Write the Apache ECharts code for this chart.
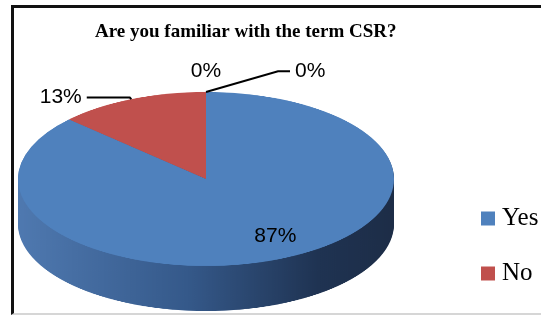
<!DOCTYPE html>
<html>
<head>
<meta charset="utf-8" />
<title>CSR</title>
<script src="https://cdn.jsdelivr.net/npm/echarts@6/dist/echarts.min.js"></script>
<style>
  body { margin: 0; width: 541px; height: 315px; overflow: hidden; background: #fff; position: relative; }
  #frame { position: absolute; left: 11px; top: 5px; width: 600px; height: 305px;
           border-left: 3px solid #111; border-top: 3px solid #111; border-bottom: 2px solid #d6d6d6; }
  #pie { position: absolute; left: 0; top: 0; width: 541px; transform-origin: 0 0; }
  #main { position: absolute; left: 0; top: 0; width: 541px; height: 315px; }
</style>
</head>
<body>
<div id="frame"></div>
<div id="pie"></div>
<div id="main"></div>
<script type="text/javascript">
// data (zero answers come first so they sit at 12 o'clock like the original)
var categories = ['Not sure', 'No answer', 'Yes', 'No'];
var values = [0, 0, 87, 13];
var legendNames = ['Yes', 'No'];
var colors = ['#9bbb59', '#8064a2', '#4f81bd', '#c0504d'];

// ellipse of the "3d" pie
var CX = 206, CY = 179, RX = 188, RY = 87, DEPTH = 45;
var k = RY / RX;
var cyU = CY / k, depthU = DEPTH / k;

var pieDiv = document.getElementById('pie');
pieDiv.style.height = Math.ceil((CY + RY + DEPTH + 6) / k) + 'px';
pieDiv.style.transform = 'scaleY(' + k + ')';

var sideColor = new echarts.graphic.LinearGradient(CX - RX, 0, CX + RX, 0, [
  { offset: 0, color: '#4f79b0' },
  { offset: 0.45, color: '#35598a' },
  { offset: 0.8, color: '#1f3352' },
  { offset: 1, color: '#1d2d47' }
], true);

var pieSeries = [];
for (var off = depthU; off > 0; off -= 3) {
  pieSeries.push({
    type: 'pie', silent: true, animation: false,
    center: [CX, cyU + off], radius: RX,
    startAngle: 90, clockwise: true,
    label: { show: false }, labelLine: { show: false },
    itemStyle: { color: sideColor },
    data: categories.map(function (c, i) { return { name: c, value: values[i] }; })
  });
}
pieSeries.push({
  type: 'pie', silent: true, animation: false,
  center: [CX, cyU], radius: RX,
  startAngle: 90, clockwise: true,
  label: { show: false }, labelLine: { show: false },
  data: categories.map(function (c, i) {
    return { name: c, value: values[i], itemStyle: { color: colors[i] } };
  })
});

var pieChart = echarts.init(pieDiv);
pieChart.setOption({ series: pieSeries });

// labels, title, legend on an unscaled layer
var labelCfg = [
  { labelLine: { show: false, length: 45, length2: 0 } },
  { labelLine: { length: 45, length2: 84 } },
  { label: { position: 'inside' }, labelLine: { show: false } },
  { labelLine: { length: 4, length2: 43 } }
];

function squash(y) { return CY + (y - CY) * k; }

var myChart = echarts.init(document.getElementById('main'));
myChart.setOption({
  title: {
    text: 'Are you familiar with the term CSR?',
    left: 95, top: 23, padding: 0,
    textStyle: { fontFamily: 'Liberation Serif', fontWeight: 'bold', fontSize: 19, color: '#000' }
  },
  legend: {
    orient: 'vertical', left: 476, top: 201,
    itemWidth: 14, itemHeight: 14, itemGap: 30,
    icon: 'rect', selectedMode: false,
    data: legendNames,
    itemStyle: { opacity: 1 },
    textStyle: { fontFamily: 'Liberation Serif', fontSize: 25, color: '#000', padding: [0, 0, 0, 2] }
  },
  series: [{
    type: 'pie', silent: true, animation: false,
    center: [CX, CY], radius: RX,
    startAngle: 90, clockwise: true,
    avoidLabelOverlap: false,
    itemStyle: { opacity: 0 },
    label: {
      show: true, position: 'outside', color: '#000', opacity: 1,
      fontFamily: 'Liberation Sans', fontSize: 21,
      formatter: function (p) { return p.value + '%'; }
    },
    labelLine: { show: true, smooth: false, lineStyle: { color: '#000', width: 2, opacity: 1 } },
    labelLayout: function (p) {
      var r = p.labelRect;
      var mx = r.x + r.width / 2, my = r.y + r.height / 2;
      var i = p.dataIndex;
      if (i === 2) {
        // inside label sits further out, as in the original
        return { x: CX + (mx - CX) * 1.8, y: CY + (my - CY) * 1.4 * k, align: 'center', verticalAlign: 'middle' };
      }
      if (i === 0) {
        return { x: CX, y: squash(my), align: 'center', verticalAlign: 'middle' };
      }
      var pts = p.labelLinePoints.map(function (q) { return [q[0], squash(q[1])]; });
      if (i === 1) {
        // put this one on the right side of 12 o'clock
        if (pts[2][0] < CX) pts = pts.map(function (q) { return [2 * CX - q[0], q[1]]; });
        pts[1] = [pts[2][0] - 12, pts[2][1]];
        return { x: pts[2][0] + 5, y: pts[2][1], align: 'left', verticalAlign: 'middle', labelLinePoints: pts };
      }
      return { x: pts[2][0] - 5, y: pts[2][1], align: 'right', verticalAlign: 'middle', labelLinePoints: pts };
    },
    data: categories.map(function (c, i) {
      var d = { name: c, value: values[i], itemStyle: { color: colors[i] } };
      if (labelCfg[i].label) d.label = labelCfg[i].label;
      if (labelCfg[i].labelLine) d.labelLine = labelCfg[i].labelLine;
      return d;
    })
  }]
});
</script>
</body>
</html>
